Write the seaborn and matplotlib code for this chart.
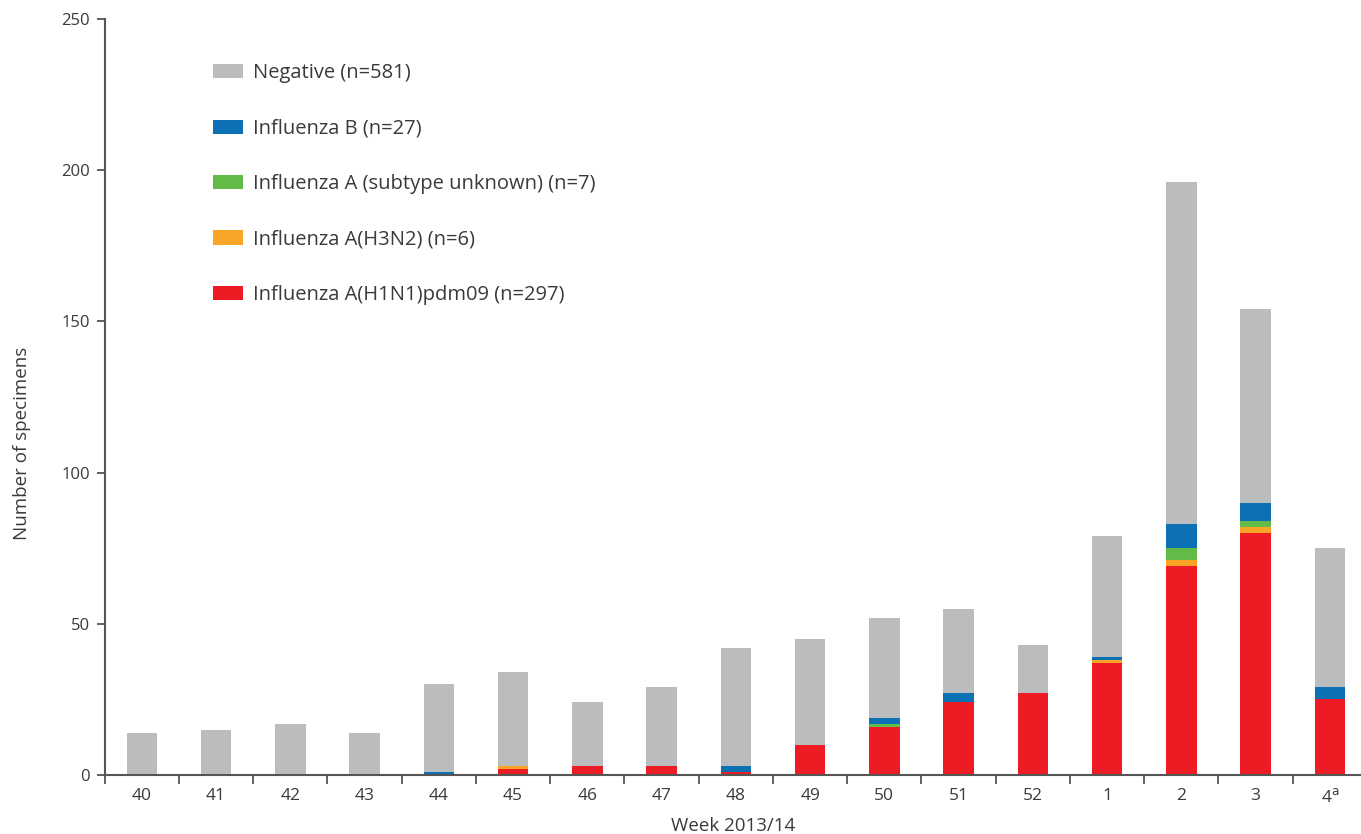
import numpy as np
import pandas as pd
import matplotlib
matplotlib.use("Agg")
import matplotlib.pyplot as plt
import seaborn as sns
from matplotlib.patches import Patch

weeks = ["40", "41", "42", "43", "44", "45", "46", "47", "48", "49", "50",
         "51", "52", "1", "2", "3", "4$^{\\mathrm{a}}$"]
h1n1 = [0, 0, 0, 0, 0, 2, 3, 3, 1, 10, 16, 24, 27, 37, 69, 80, 25]
h3n2 = [0, 0, 0, 0, 0, 1, 0, 0, 0, 0, 0, 0, 0, 1, 2, 2, 0]
a_unknown = [0, 0, 0, 0, 0, 0, 0, 0, 0, 0, 1, 0, 0, 0, 4, 2, 0]
flu_b = [0, 0, 0, 0, 1, 0, 0, 0, 2, 0, 2, 3, 0, 1, 8, 6, 4]
negative = [14, 15, 17, 14, 29, 31, 21, 26, 39, 35, 33, 28, 16, 40, 113, 64, 46]

series_labels = ["Influenza A(H1N1)pdm09 (n=297)", "Influenza A(H3N2) (n=6)",
                 "Influenza A (subtype unknown) (n=7)", "Influenza B (n=27)",
                 "Negative (n=581)"]
colors = ["#ED1C24", "#F8A427", "#62BB46", "#0C71B4", "#BBBCBE"]
y_ticks = [0, 50, 100, 150, 200, 250]

sns.set_theme(style="white")
plt.rcParams["font.family"] = ["Open Sans", "DejaVu Sans"]
text_color = "#3a3a3a"
axis_color = "#555555"

layers = np.array([h1n1, h3n2, a_unknown, flu_b, negative], dtype=float)
cum = np.cumsum(layers, axis=0)

fig = plt.figure(figsize=(13.61, 8.34), dpi=100)
ax = fig.add_axes([104.7 / 1361, 1 - 775 / 834, (1361 - 104.7) / 1361,
                   (775 - 19) / 834])

# Stacked bars: paint cumulative totals from the top layer down
for i in range(len(layers) - 1, -1, -1):
    df = pd.DataFrame({"week": weeks, "value": cum[i]})
    sns.barplot(data=df, x="week", y="value", color=colors[i], width=0.41,
                saturation=1, ax=ax, edgecolor="none", linewidth=0)

ax.set_xlim(-0.5, 16.42)
ax.set_ylim(0, 250)
ax.set_yticks(y_ticks)
ax.set_yticklabels([str(v) for v in y_ticks])

for s in ["top", "right"]:
    ax.spines[s].set_visible(False)
for s in ["left", "bottom"]:
    ax.spines[s].set_color(axis_color)
    ax.spines[s].set_linewidth(1.5)

# Category labels at bar centres, tick marks at category boundaries
ax.set_xticks(np.arange(len(weeks)))
ax.set_xticklabels(weeks)
ax.tick_params(axis="x", which="major", length=0, pad=9, labelsize=12.5,
               labelcolor=text_color)
ax.set_xticks(np.arange(-0.5, len(weeks) - 0.5), minor=True)
ax.tick_params(axis="x", which="minor", length=6.5, width=1.3,
               color=axis_color, direction="out", bottom=True)
ax.tick_params(axis="y", length=5.8, width=1.3, color=axis_color, left=True,
               direction="out", pad=5, labelsize=12, labelcolor=text_color)

ax.set_xlabel("Week 2013/14", fontsize=13.5, color=text_color)
ax.set_ylabel("Number of specimens", fontsize=13.5, color=text_color)
ax.xaxis.set_label_coords(0.5, -0.0675, transform=ax.transAxes)
ax.xaxis.label.set_va("center")
ax.yaxis.set_label_coords(-0.0655, 0.438, transform=ax.transAxes)
ax.yaxis.label.set_va("center")

handles = [Patch(facecolor=colors[i], edgecolor="none") for i in range(4, -1, -1)]
labels = [series_labels[i] for i in range(4, -1, -1)]
leg = ax.legend(handles, labels, loc="upper left",
                bbox_to_anchor=(0.0862, 0.9415), frameon=False, fontsize=14.5,
                handlelength=1.5, handleheight=0.7, handletextpad=0.5,
                labelspacing=1.76, borderpad=0, borderaxespad=0)
for t in leg.get_texts():
    t.set_color(text_color)

fig.savefig("out.png", dpi=100)
